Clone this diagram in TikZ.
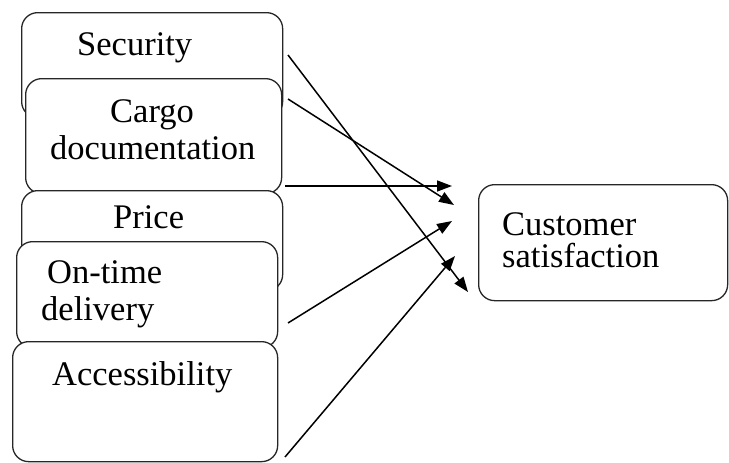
\documentclass[tikz,border=0pt]{standalone}
\usepackage{fontspec}
\setmainfont{Liberation Serif}
\usetikzlibrary{arrows.meta}
\begin{document}
\begin{tikzpicture}[x=1pt,y=-1pt,
 box/.style={draw=black!85, line width=1.3pt, rounded corners=16pt, fill=white, inner sep=0pt, anchor=north west},
 txt/.style={anchor=base west, inner sep=0pt, font=\fontsize{34.5}{37}\selectfont},
 link/.style={line width=1.5pt, -{Triangle[length=15pt,width=11pt]}}]
\useasboundingbox (0,0) rectangle (729,463);
\node[box, minimum width=261pt, minimum height=105pt] (security) at (21,12) {};
\node[box, minimum width=256pt, minimum height=115pt] (cargo) at (25,78) {};
\node[box, minimum width=261pt, minimum height=100pt] (price) at (21,190) {};
\node[box, minimum width=261pt, minimum height=106pt] (ontime) at (16,241) {};
\node[box, minimum width=265pt, minimum height=120pt] (access) at (12,341) {};
\node[box, minimum width=249pt, minimum height=116pt] (cust) at (478,184) {};

\node[txt] (tsec) at (77,55) {Security};
\node[txt] (tcar1) at (110,122) {Cargo};
\node[txt] (tcar2) at (50,159) {documentation};
\node[txt] (tpri) at (113,228) {Price};
\node[txt] (tont1) at (47,283) {On-time};
\node[txt] (tont2) at (41,320) {delivery};
\node[txt] (tacc) at (52,385) {Accessibility};
\node[txt] (tcus1) at (502,235) {Customer};
\node[txt] (tcus2) at (502,267) {satisfaction};

\coordinate (s0) at (288,55);  \coordinate (s1) at (468,292);
\coordinate (c0) at (288,99);  \coordinate (c1) at (454,205);
\coordinate (p0) at (285,186); \coordinate (p1) at (452,186);
\coordinate (o0) at (288,323); \coordinate (o1) at (452,221);
\coordinate (a0) at (285,457); \coordinate (a1) at (455,256);
\draw[link] (s0) -- (s1);
\draw[link] (c0) -- (c1);
\draw[link] (p0) -- (p1);
\draw[link] (o0) -- (o1);
\draw[link] (a0) -- (a1);
\end{tikzpicture}
\end{document}
